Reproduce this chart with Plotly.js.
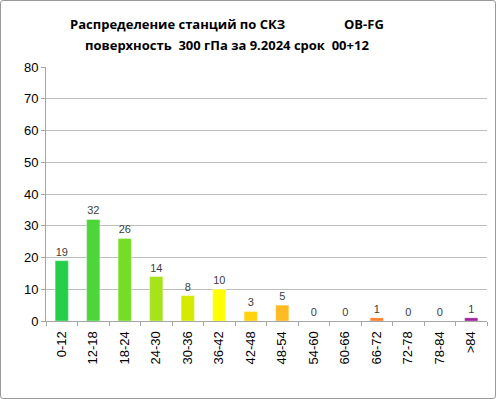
<!DOCTYPE html>
<html>
<head>
<meta charset="utf-8">
<script src="https://cdn.plot.ly/plotly-3.0.1.min.js"></script>
<style>
html,body{margin:0;padding:0;background:#fff;}
#wrap{position:relative;width:496px;height:399px;}
#chart{width:496px;height:399px;}
#frame{position:absolute;left:0;top:0;width:494px;height:397px;border:1px solid #9a9a9a;border-radius:3px;pointer-events:none;}
</style>
</head>
<body>
<div id="wrap"><div id="chart"></div><div id="frame"></div></div>
<script>
const categories = ["0-12","12-18","18-24","24-30","30-36","36-42","42-48","48-54","54-60","60-66","66-72","72-78","78-84",">84"];
const counts = [19,32,26,14,8,10,3,5,0,0,1,0,0,1];
const barColors = ["#26cf48","#4cd63a","#76dd26","#a6e31a","#d4ea00","#ffff00","#ffd20a","#ffbb22","#ff9a30","#ff8a30","#ff7c2a","#e05050","#c03070","#a020a0"];
const titleLine1 = "Распределение станций по СКЗ";
const titleCode = "OB-FG";
const titleLine2 = "поверхность  300 гПа за 9.2024 срок  00+12";
const yTicks = [0,10,20,30,40,50,60,70,80];

const trace = {
  type: "bar",
  x: categories,
  y: counts,
  marker: {color: barColors, line: {color: "rgba(255,255,255,0.35)", width: 1}},
  width: 0.42,
  text: counts.map(String),
  textposition: "outside",
  textfont: {family: "Liberation Sans, Arial, sans-serif", size: 11, color: "#404040"},
  cliponaxis: false,
  hoverinfo: "none"
};

const ph = 399 - 67 - 78;
function py(pix){ return (321 - pix) / ph; }
function px(pix){ return (pix - 46) / 441; }
const tfont = {family: "Open Sans, Liberation Sans, sans-serif", size: 13, color: "#000"};

const layout = {
  width: 496, height: 399,
  margin: {l: 46, r: 9, t: 67, b: 78},
  paper_bgcolor: "#fff", plot_bgcolor: "#fff",
  showlegend: false,
  bargap: 0.58,
  xaxis: {
    type: "category",
    tickangle: -90,
    tickson: "boundaries",
    ticks: "outside", ticklen: 4, tickcolor: "#a6a6a6",
    ticklabelstandoff: 4,
    showline: true, linecolor: "#a6a6a6", linewidth: 1,
    showgrid: false,
    tickfont: {family: "Liberation Sans, Arial, sans-serif", size: 13, color: "#000"}
  },
  yaxis: {
    range: [0, 80],
    tickvals: yTicks,
    ticks: "outside", ticklen: 4, tickcolor: "#a6a6a6",
    showline: true, linecolor: "#a6a6a6", linewidth: 1,
    showgrid: true, gridcolor: "#bdbdbd", gridwidth: 1,
    zeroline: false,
    tickfont: {family: "Liberation Sans, Arial, sans-serif", size: 13, color: "#000"}
  },
  annotations: [
    {xref: "paper", yref: "paper", x: px(177), y: py(24), yanchor: "middle", xanchor: "center",
     text: "<b>" + titleLine1 + "</b>", showarrow: false, font: tfont},
    {xref: "paper", yref: "paper", x: px(364), y: py(24), yanchor: "middle", xanchor: "center",
     text: "<b>" + titleCode + "</b>", showarrow: false, font: tfont},
    {xref: "paper", yref: "paper", x: px(227), y: py(45), yanchor: "middle", xanchor: "center",
     text: "<b>" + titleLine2 + "</b>", showarrow: false, font: tfont}
  ]
};

Plotly.newPlot("chart", [trace], layout, {displayModeBar: false, staticPlot: true});
</script>
</body>
</html>
